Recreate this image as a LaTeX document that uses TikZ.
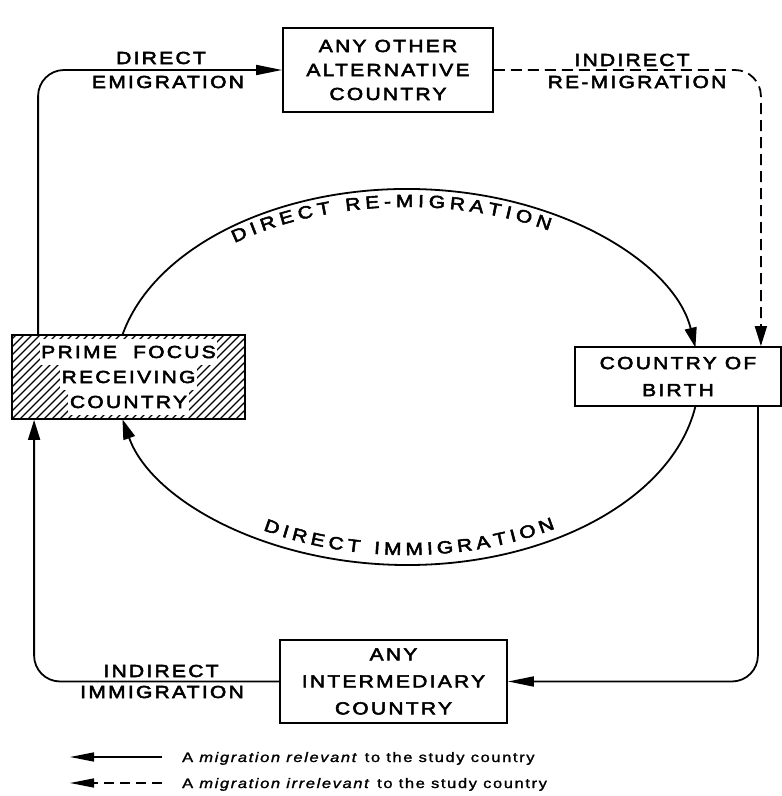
\documentclass[tikz,border=0pt]{standalone}
\usepackage{fontspec}
\usetikzlibrary{arrows.meta,decorations.text}
\newfontfamily\lblfont[FakeStretch=1.2,FakeBold=3,LetterSpace=13]{Liberation Sans}
\newfontfamily\arcfont[FakeStretch=1.2,FakeBold=3]{Liberation Sans}
\newfontfamily\legfont[FakeStretch=1.2,FakeBold=1.5,LetterSpace=12]{Liberation Sans}

\tikzset{
  flow/.style={line width=1.8pt, rounded corners=26pt},
  harrow/.style={-{Triangle[length=26pt,width=10pt]}},
  varrow/.style={-{Triangle[length=20pt,width=12pt]}},
  gap/.style={dash pattern=on 11pt off 6pt},
  country/.style={draw, line width=1.8pt, inner sep=0pt, align=center},
  caps/.style={font={\lblfont\fontsize{17.5pt}{24pt}\selectfont}},
  capswide/.style={font={\lblfont\fontsize{17.5pt}{27pt}\selectfont}},
  tag/.style={caps, align=center, inner sep=0pt},
  legend/.style={anchor=base west, inner sep=0pt, font={\legfont\fontsize{13.7pt}{16pt}\selectfont}},
  arctext/.style={decorate, decoration={text along path, text align=fit to path, text={|\arcfont\fontsize{17.5pt}{20pt}\selectfont|#1}}},
}

\begin{document}
\begin{tikzpicture}[x=1pt,y=1pt]
\useasboundingbox (0,0) rectangle (782,796);
\fill[white] (0,0) rectangle (782,796);

% the four countries
\node[country, caps, minimum width=210pt, minimum height=84pt] (alt) at (388,726)
  {ANY OTHER\\ALTERNATIVE\\COUNTRY};
\node[country, minimum width=233pt, minimum height=84pt,
  path picture={
    \foreach \k in {-12,...,30}
      \draw[line width=1.2pt] ([xshift=\k*8pt]path picture bounding box.south west) -- ++(90pt,90pt);
  }] (pf) at (128.5,419) {};
\node[tag, fill=white, inner xsep=1.5pt, inner ysep=6.5pt] (pf1) at ([yshift=25pt]pf.center) {PRIME\ \ FOCUS};
\node[tag, fill=white, inner xsep=1.5pt, inner ysep=6.5pt] (pf2) at (pf.center) {RECEIVING};
\node[tag, fill=white, inner xsep=1.5pt, inner ysep=6.5pt] (pf3) at ([yshift=-25pt]pf.center) {COUNTRY};
\node[country, capswide, minimum width=206pt, minimum height=59pt] (cob) at (678,419.5)
  {COUNTRY OF\\BIRTH};
\node[country, capswide, minimum width=227pt, minimum height=83pt] (im) at (393.5,114.5)
  {ANY\\INTERMEDIARY\\COUNTRY};

% outer flows
\draw[flow, harrow] ([xshift=27pt]pf.north west) |- (alt.west);
\draw[flow, gap, varrow] (alt.east) -| ([xshift=-21pt]cob.north east);
\draw[flow, harrow] ([xshift=-24pt]cob.south east) |- (im.east);
\draw[flow, varrow] (im.west) -| ([xshift=23pt]pf.south west);

% the direct loop
\coordinate (hub) at (407,419);
\draw[line width=1.8pt, varrow] ([shift={(167:292pt and 188pt)}]hub)
  arc[start angle=167, end angle=9, x radius=292pt, y radius=188pt];
\draw[line width=1.8pt, varrow] ([shift={(-9:292pt and 188pt)}]hub)
  arc[start angle=-9, end angle=-167, x radius=292pt, y radius=188pt];
\path[arctext={DIRECT RE-MIGRATION}] ([shift={(128:280pt and 170pt)}]hub)
  arc[start angle=128, end angle=59.5, x radius=280pt, y radius=170pt];
\path[arctext={DIRECT IMMIGRATION}] ([shift={(239.3:282pt and 178pt)}]hub)
  arc[start angle=239.3, end angle=301.7, x radius=282pt, y radius=178pt];

% flow labels
\node[tag] (de1) at (161,738) {DIRECT};
\node[tag] (de2) at (168,714) {EMIGRATION};
\node[tag] (ir1) at (632,736) {INDIRECT};
\node[tag] (ir2) at (637,714) {RE-MIGRATION};
\node[tag] (ii1) at (161,125) {INDIRECT};
\node[tag] (ii2) at (162,104) {IMMIGRATION};

% legend
\coordinate (ls1) at (162,39);
\coordinate (le1) at (70,39);
\coordinate (ls2) at (162,13);
\coordinate (le2) at (70,13);
\draw[line width=1.4pt, -{Triangle[length=24pt,width=9pt]}] (ls1) -- (le1);
\draw[line width=1.4pt, dash pattern=on 10pt off 6pt, -{Triangle[length=24pt,width=9pt]}] (ls2) -- (le2);
\node[legend] (lg1) at (182,34) {A \textit{migration relevant} to the study country};
\node[legend] (lg2) at (182,8) {A \textit{migration irrelevant} to the study country};
\end{tikzpicture}
\end{document}
